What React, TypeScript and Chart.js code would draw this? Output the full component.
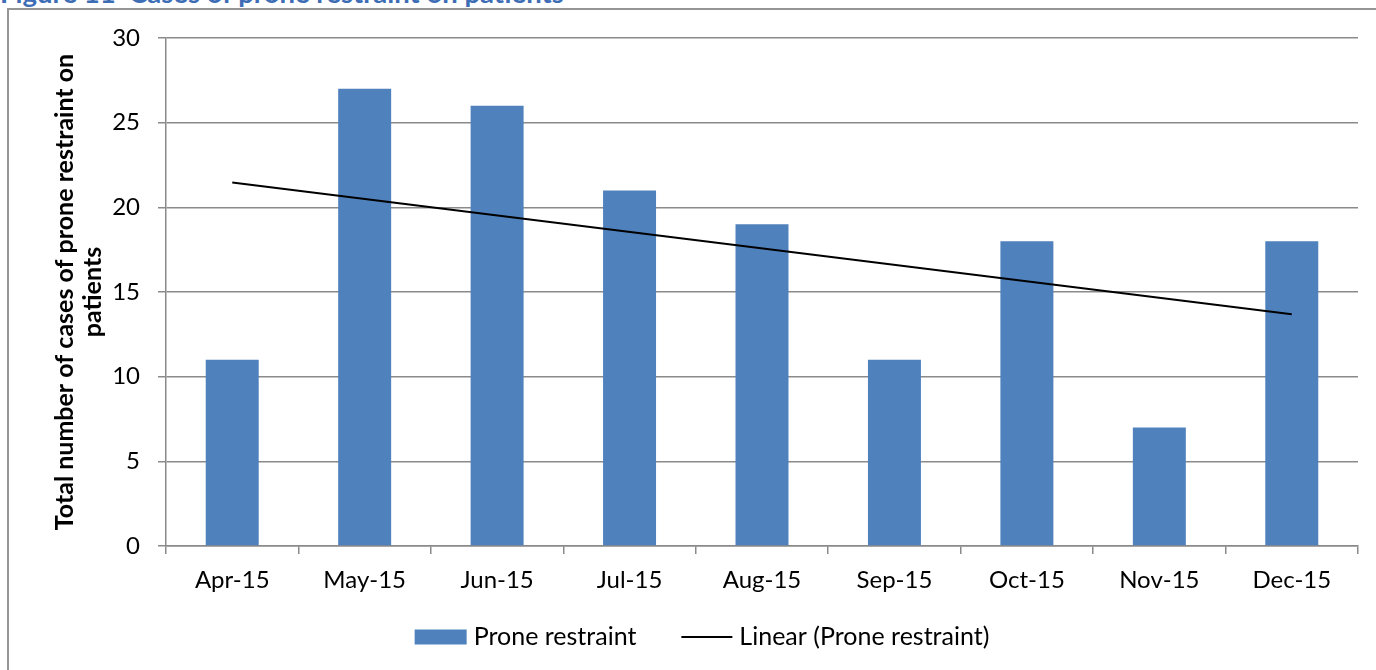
import React, { useEffect, useRef } from "react";
import { Chart, registerables } from "chart.js";

Chart.register(...registerables);

const categories = ["Apr-15", "May-15", "Jun-15", "Jul-15", "Aug-15", "Sep-15", "Oct-15", "Nov-15", "Dec-15"];
const proneRestraint = [11, 27, 26, 21, 19, 11, 18, 7, 18];
const trendLine = [21.46, null, null, null, null, null, null, null, 13.68];
const yTitle = ["Total number of cases of prone restraint on", "patients"];
const figureTitle = "Figure 11  Cases of prone restraint on patients";
const barLabel = "Prone restraint";
const trendLabel = "Linear (Prone restraint)";

const legendPlugin = {
  id: "customLegend",
  afterDraw(chart: any) {
    const ctx = chart.ctx;
    const font = "25px Lato";
    ctx.save();
    ctx.font = font;
    ctx.textBaseline = "middle";
    ctx.fillStyle = "#000";
    const boxW = 52;
    const boxH = 15;
    const gap = 7;
    const itemGap = 45;
    const lineW = 51;
    const t1 = ctx.measureText(barLabel).width;
    const t2 = ctx.measureText(trendLabel).width;
    const total = boxW + gap + t1 + itemGap + lineW + gap + t2;
    const centerX = chart.width / 2 + 14;
    const cy = 637;
    let x = centerX - total / 2;
    ctx.fillStyle = "#4F81BD";
    ctx.fillRect(x, cy - boxH / 2, boxW, boxH);
    x += boxW + gap;
    ctx.fillStyle = "#000";
    ctx.fillText(barLabel, x, cy);
    x += t1 + itemGap;
    ctx.strokeStyle = "#000";
    ctx.lineWidth = 2;
    ctx.beginPath();
    ctx.moveTo(x, cy);
    ctx.lineTo(x + lineW, cy);
    ctx.stroke();
    x += lineW + gap;
    ctx.fillText(trendLabel, x, cy);
    ctx.restore();
  },
};

export default function App() {
  const ref = useRef<HTMLCanvasElement>(null);
  useEffect(() => {
    if (!ref.current) return;
    const gridColor = "#8a8a8a";
    const chart = new Chart(ref.current, {
      type: "bar",
      data: {
        labels: categories,
        datasets: [
          {
            type: "line",
            label: trendLabel,
            data: trendLine,
            borderColor: "#000000",
            backgroundColor: "#000000",
            borderWidth: 2,
            pointRadius: 0,
            spanGaps: true,
            order: 0,
          } as any,
          {
            type: "bar",
            label: barLabel,
            data: proneRestraint,
            backgroundColor: "#4F81BD",
            borderWidth: 0,
            barPercentage: 0.4,
            categoryPercentage: 1.0,
            order: 1,
          },
        ],
      },
      plugins: [legendPlugin],
      options: {
        animation: false,
        responsive: false,
        maintainAspectRatio: false,
        layout: { padding: { left: 0, right: 18, top: 38, bottom: 0 } },
        plugins: {
          tooltip: { enabled: false },
          legend: { display: false },
        },
        scales: {
          x: {
            offset: true,
            grid: { display: true, drawOnChartArea: false, drawTicks: true, tickLength: 8, color: gridColor, lineWidth: 1.5, offset: true },
            border: { display: true, color: gridColor, width: 1.5 },
            ticks: { color: "#000", font: { family: "Lato", size: 24 }, padding: 12, maxRotation: 0 },
            afterFit: (s: any) => { s.height = 124; },
          },
          y: {
            min: 0,
            max: 30,
            ticks: { stepSize: 5, color: "#000", font: { family: "Lato", size: 24 }, padding: 18 },
            grid: { color: gridColor, lineWidth: 1.5, tickLength: 8 },
            border: { display: true, color: gridColor, width: 1.5 },
            title: {
              display: true,
              text: yTitle,
              color: "#000",
              font: { family: "Lato", size: 25, weight: "bold", lineHeight: 1.12 },
              padding: { top: 51, bottom: 0 },
            },
            afterFit: (s: any) => { s.width = 166; },
          },
        },
      },
    });
    return () => chart.destroy();
  }, []);

  return (
    <div style={{ position: "fixed", left: 0, top: 0, width: 1376, height: 670, overflow: "hidden", background: "#fff" }}>
      <div
        style={{
          position: "absolute",
          left: 0,
          top: -21,
          fontFamily: "Lato",
          fontSize: 27.5,
          fontWeight: "bold",
          color: "#3D6DB5",
          whiteSpace: "pre",
          lineHeight: "27px",
        }}
      >
        {figureTitle}
      </div>
      <div
        style={{
          position: "absolute",
          left: 7,
          top: 8,
          width: 1400,
          height: 700,
          border: "2px solid #959595",
        }}
      />
      <canvas ref={ref} width={1376} height={670} style={{ position: "absolute", left: 0, top: 0, width: 1376, height: 670 }} />
    </div>
  );
}
